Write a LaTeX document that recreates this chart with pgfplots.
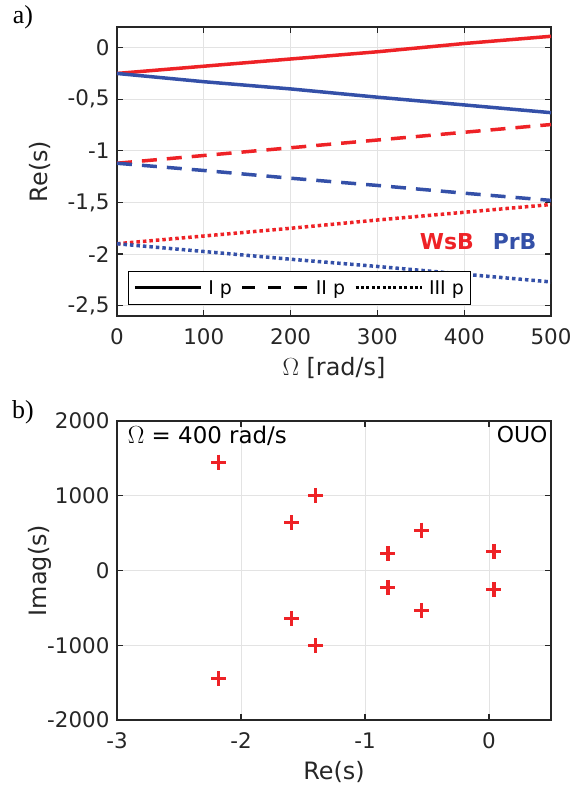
\documentclass[border=0pt]{standalone}
\usepackage{pgfplots}
\pgfplotsset{compat=1.18}
\usepackage{fontspec}
\setmainfont{DejaVu Sans}
\newfontfamily\serifa{Liberation Serif}
\definecolor{myred}{RGB}{238,34,38}
\definecolor{myblue}{RGB}{52,80,168}
\definecolor{axgray}{RGB}{38,38,38}
\pgfplotsset{
  common/.style={
    scale only axis, width=434bp,
    tick align=inside, major tick length=6bp,
    grid=major, grid style={gray!22, line width=0.8bp},
    axis line style={axgray, line width=1.3bp},
    every tick/.style={axgray, line width=1.2bp},
    ticklabel style={font=\fontsize{21.5}{25}\selectfont, text=axgray},
    xticklabel style={yshift=-9bp},
    yticklabel style={xshift=-4bp},
    every axis y label/.style={at={(axis description cs:-0.177,0.5)}, rotate=90, anchor=center, font=\fontsize{24}{28}\selectfont, text=axgray},
  }
}
\begin{document}
\begin{tikzpicture}[x=1bp,y=1bp]
\useasboundingbox (-117bp,27bp) rectangle (455bp,-760bp);
\begin{axis}[common, at={(0bp,0bp)}, anchor=north west, height=289bp,
  xmin=0, xmax=500, ymin=-2.6, ymax=0.2,
  xtick={0,100,200,300,400,500}, xticklabels={0,100,200,300,400,500},
  ytick={-2.5,-2,-1.5,-1,-0.5,0}, yticklabels={{-2,5},-2,{-1,5},-1,{-0,5},0},
  every axis x label/.style={at={(axis description cs:0.5,-0.18)}, anchor=center, font=\fontsize{24}{28}\selectfont, text=axgray},
  xlabel={$\Omega$ [rad/s]}, ylabel={Re(s)},
  legend columns=3,
  legend style={at={(axis description cs:0.025,0.038)}, anchor=south west, draw=black, line width=0.9bp,
    font=\fontsize{19}{23}\selectfont, inner xsep=5bp, inner ysep=7bp,
    /tikz/every odd column/.append style={column sep=4bp},
    /tikz/every even column/.append style={column sep=7bp}},
  legend image code/.code={\draw[#1] (0bp,0bp) -- (66bp,0bp);},
]
\addplot[myred, line width=3.5bp, forget plot] coordinates {(0,-0.25) (100,-0.18) (200,-0.11) (300,-0.04) (400,0.04) (500,0.11)};
\addplot[myblue, line width=3.5bp, forget plot] coordinates {(0,-0.25) (100,-0.33) (200,-0.40) (300,-0.48) (400,-0.555) (500,-0.63)};
\addplot[myred, line width=3.5bp, dash pattern=on 15bp off 10bp, forget plot] coordinates {(0,-1.12) (100,-1.045) (200,-0.97) (300,-0.895) (400,-0.82) (500,-0.745)};
\addplot[myblue, line width=3.5bp, dash pattern=on 15bp off 10bp, forget plot] coordinates {(0,-1.12) (100,-1.19) (200,-1.265) (300,-1.335) (400,-1.41) (500,-1.48)};
\addplot[myred, line width=3.5bp, dash pattern=on 3.5bp off 3bp, forget plot] coordinates {(0,-1.9) (100,-1.825) (200,-1.75) (300,-1.67) (400,-1.595) (500,-1.52)};
\addplot[myblue, line width=3.5bp, dash pattern=on 3.5bp off 3bp, forget plot] coordinates {(0,-1.9) (100,-1.975) (200,-2.05) (300,-2.12) (400,-2.195) (500,-2.27)};
\addlegendimage{black, line width=3bp}
\addlegendentry{I p}
\addlegendimage{black, line width=3bp, dash pattern=on 13bp off 13bp}
\addlegendentry{II p}
\addlegendimage{black, line width=3bp, dash pattern=on 3bp off 2.4bp}
\addlegendentry{III p}
\node[myred, font=\bfseries\fontsize{22}{26}\selectfont] at (axis cs:380,-1.88) {WsB};
\node[myblue, font=\bfseries\fontsize{22}{26}\selectfont] at (axis cs:458,-1.88) {PrB};
\end{axis}
\begin{axis}[common, at={(0bp,-394bp)}, anchor=north west, height=299bp,
  xmin=-3, xmax=0.5, ymin=-2000, ymax=2000,
  xtick={-3,-2,-1,0}, xticklabels={-3,-2,-1,0},
  ytick={-2000,-1000,0,1000,2000}, yticklabels={-2000,-1000,0,1000,2000},
  every axis x label/.style={at={(axis description cs:0.5,-0.174)}, anchor=center, font=\fontsize{24}{28}\selectfont, text=axgray},
  xlabel={Re(s)}, ylabel={Imag(s)},
]
\addplot[only marks, mark=+, mark size=7.5bp, mark options={line width=3.2bp}, color=myred] coordinates {
(-2.18,1450) (-2.18,-1450) (-1.59,640) (-1.59,-640) (-1.40,1005) (-1.40,-1005)
(-0.815,225) (-0.815,-225) (-0.545,540) (-0.545,-540) (0.04,255) (0.04,-255)};
\node[anchor=north west, font=\fontsize{23}{27}\selectfont, text=black, inner sep=2bp] at (axis description cs:0.02,0.99) {$\Omega$ = 400 rad/s};
\node[anchor=north east, font=\fontsize{22}{26}\selectfont, text=black, inner sep=2bp] at (axis description cs:0.997,0.99) {OUO};
\end{axis}
\node[font=\serifa\fontsize{26}{28}\selectfont, anchor=center] at (-94bp,10bp) {a)};
\node[font=\serifa\fontsize{26}{28}\selectfont, anchor=center] at (-94bp,-385bp) {b)};
\end{tikzpicture}
\end{document}
